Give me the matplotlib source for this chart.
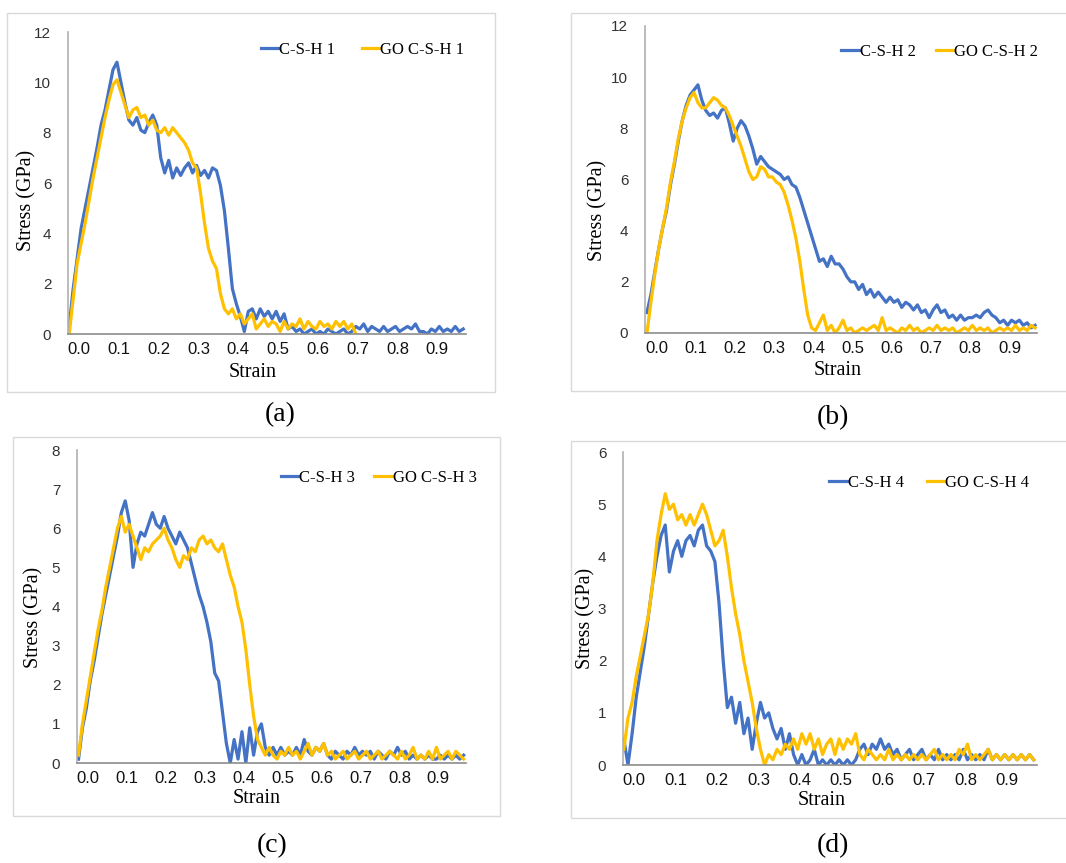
import numpy as np
import matplotlib
matplotlib.use("Agg")
import matplotlib.pyplot as plt
from matplotlib.patches import Rectangle

# strain sample points shared by all curves
strain = np.round(np.arange(-0.025, 0.97, 0.01), 3)

csh1 = [0.3, 1.8, 3.0, 4.2, 5.0, 5.8, 6.6, 7.4, 8.3, 8.9,
        9.7, 10.5, 10.8, 10.0, 9.2, 8.5, 8.3, 8.6, 8.1, 8.0,
        8.4, 8.7, 8.3, 7.0, 6.4, 6.9, 6.2, 6.6, 6.3, 6.6,
        6.8, 6.4, 6.7, 6.3, 6.5, 6.2, 6.6, 6.5, 5.9, 4.9,
        3.4, 1.8, 1.2, 0.7, 0.1, 0.9, 1.0, 0.6, 1.0, 0.7,
        0.9, 0.6, 0.9, 0.5, 0.8, 0.2, 0.3, 0.1, 0.2, 0.0,
        0.1, 0.2, 0.0, 0.1, 0.0, 0.2, 0.1, 0.0, 0.1, 0.2,
        0.0, 0.1, 0.3, 0.2, 0.4, 0.1, 0.3, 0.2, 0.1, 0.3,
        0.1, 0.2, 0.3, 0.1, 0.2, 0.3, 0.2, 0.4, 0.1, 0.1,
        0.0, 0.2, 0.1, 0.3, 0.1, 0.2, 0.1, 0.3, 0.1, 0.2]
go_csh1 = [0.0, 1.4, 2.8, 3.6, 4.4, 5.3, 6.2, 7.0, 7.8, 8.6,
           9.3, 9.9, 10.1, 9.6, 9.1, 8.6, 8.9, 9.0, 8.6, 8.7,
           8.3, 8.5, 8.1, 8.0, 8.2, 7.9, 8.2, 8.0, 7.8, 7.6,
           7.3, 6.8, 6.6, 5.6, 4.4, 3.4, 2.9, 2.6, 1.6, 1.0,
           0.8, 1.0, 0.6, 0.8, 0.4, 0.6, 0.8, 0.2, 0.4, 0.6,
           0.3, 0.5, 0.4, 0.1, 0.5, 0.2, 0.4, 0.3, 0.6, 0.2,
           0.5, 0.3, 0.2, 0.5, 0.3, 0.4, 0.2, 0.5, 0.3, 0.5,
           0.2, 0.4, 0.0]

csh2 = [0.8, 1.5, 2.4, 3.3, 4.1, 4.8, 5.8, 6.6, 7.5, 8.3,
        8.9, 9.3, 9.5, 9.7, 9.1, 8.7, 8.5, 8.6, 8.4, 8.7,
        8.8, 8.2, 7.5, 8.0, 8.3, 8.1, 7.7, 7.2, 6.6, 6.9,
        6.7, 6.5, 6.4, 6.3, 6.2, 6.0, 6.1, 5.8, 5.7, 5.3,
        4.8, 4.3, 3.8, 3.3, 2.8, 2.9, 2.6, 3.0, 2.7, 2.7,
        2.5, 2.2, 2.0, 2.0, 1.7, 1.9, 1.5, 1.7, 1.4, 1.6,
        1.4, 1.2, 1.4, 1.2, 1.3, 1.0, 1.2, 1.1, 0.9, 1.1,
        0.8, 0.9, 0.6, 0.9, 1.1, 0.8, 0.9, 0.6, 0.7, 0.5,
        0.7, 0.5, 0.6, 0.6, 0.7, 0.6, 0.8, 0.9, 0.7, 0.6,
        0.4, 0.5, 0.3, 0.5, 0.4, 0.5, 0.3, 0.4, 0.2, 0.3]
go_csh2 = [0.0, 1.2, 2.3, 3.3, 4.1, 4.9, 5.9, 6.7, 7.6, 8.3,
           8.8, 9.2, 9.4, 9.0, 8.8, 8.8, 9.0, 9.2, 9.1, 8.9,
           8.8, 8.5, 8.1, 7.7, 7.3, 6.8, 6.3, 6.0, 6.1, 6.5,
           6.4, 6.1, 6.1, 5.9, 5.8, 5.5, 5.0, 4.4, 3.7, 2.8,
           1.7, 0.7, 0.2, 0.1, 0.4, 0.7, 0.1, 0.3, 0.0, 0.2,
           0.5, 0.1, 0.2, 0.0, 0.1, 0.2, 0.1, 0.2, 0.3, 0.1,
           0.6, 0.1, 0.2, 0.1, 0.0, 0.2, 0.1, 0.3, 0.1, 0.2,
           0.0, 0.1, 0.2, 0.1, 0.3, 0.1, 0.2, 0.1, 0.2, 0.0,
           0.1, 0.2, 0.1, 0.3, 0.1, 0.2, 0.1, 0.2, 0.0, 0.1,
           0.2, 0.1, 0.2, 0.1, 0.3, 0.1, 0.2, 0.1, 0.3, 0.2]

csh3 = [0.1, 0.9, 1.4, 2.1, 2.6, 3.2, 3.8, 4.3, 4.8, 5.3,
        5.8, 6.4, 6.7, 6.2, 5.0, 5.6, 5.9, 5.8, 6.1, 6.4,
        6.1, 6.0, 6.3, 6.0, 5.8, 5.6, 5.9, 5.7, 5.5, 5.1,
        4.7, 4.3, 4.0, 3.6, 3.1, 2.3, 2.1, 1.3, 0.5, 0.0,
        0.6, 0.1, 0.8, 0.0, 0.9, 0.2, 0.8, 1.0, 0.4, 0.2,
        0.4, 0.2, 0.4, 0.2, 0.3, 0.2, 0.4, 0.2, 0.6, 0.3,
        0.2, 0.4, 0.3, 0.5, 0.2, 0.1, 0.3, 0.2, 0.1, 0.3,
        0.2, 0.4, 0.2, 0.3, 0.2, 0.3, 0.1, 0.3, 0.2, 0.1,
        0.3, 0.2, 0.4, 0.2, 0.3, 0.1, 0.2, 0.1, 0.2, 0.1,
        0.2, 0.1, 0.1, 0.2, 0.1, 0.2, 0.1, 0.2, 0.1, 0.2]
go_csh3 = [0.2, 1.0, 1.6, 2.2, 2.8, 3.4, 3.9, 4.5, 5.0, 5.5,
           6.0, 6.3, 5.9, 6.1, 5.8, 5.5, 5.2, 5.5, 5.4, 5.6,
           5.7, 5.8, 6.0, 5.7, 5.5, 5.2, 5.0, 5.3, 5.2, 5.5,
           5.4, 5.7, 5.8, 5.6, 5.7, 5.5, 5.4, 5.6, 5.2, 4.8,
           4.5, 4.0, 3.6, 2.9, 2.0, 1.2, 0.6, 0.4, 0.2, 0.4,
           0.2, 0.1, 0.3, 0.2, 0.4, 0.2, 0.3, 0.1, 0.3, 0.5,
           0.2, 0.4, 0.3, 0.5, 0.2, 0.3, 0.1, 0.2, 0.3, 0.1,
           0.2, 0.3, 0.1, 0.2, 0.3, 0.1, 0.2, 0.3, 0.1, 0.2,
           0.3, 0.2, 0.1, 0.3, 0.1, 0.2, 0.4, 0.1, 0.2, 0.1,
           0.3, 0.1, 0.4, 0.1, 0.2, 0.3, 0.1, 0.3, 0.2, 0.1]

csh4 = [0.5, 0.0, 0.6, 1.3, 1.8, 2.3, 2.9, 3.5, 4.0, 4.4,
        4.6, 3.7, 4.1, 4.3, 4.0, 4.3, 4.4, 4.2, 4.5, 4.6,
        4.2, 4.1, 3.9, 3.1, 2.0, 1.1, 1.3, 0.8, 1.2, 0.6,
        0.9, 0.3, 0.8, 1.2, 0.9, 1.0, 0.7, 0.5, 0.7, 0.3,
        0.6, 0.2, 0.0, 0.2, 0.0, 0.1, 0.3, 0.0, 0.1, 0.0,
        0.1, 0.0, 0.1, 0.0, 0.1, 0.0, 0.1, 0.3, 0.4, 0.2,
        0.4, 0.3, 0.5, 0.3, 0.4, 0.2, 0.3, 0.1, 0.2, 0.3,
        0.1, 0.2, 0.3, 0.1, 0.2, 0.1, 0.3, 0.1, 0.2, 0.1,
        0.2, 0.1, 0.3, 0.1, 0.2, 0.1, 0.2, 0.1, 0.3, 0.1,
        0.2, 0.1, 0.2, 0.1, 0.2, 0.1, 0.2, 0.1, 0.2, 0.1]
go_csh4 = [0.3, 0.9, 1.2, 1.7, 2.1, 2.5, 2.9, 3.5, 4.3, 4.8,
           5.2, 4.9, 5.0, 4.7, 4.8, 4.6, 4.8, 4.6, 4.8, 5.0,
           4.8, 4.5, 4.2, 4.3, 4.5, 4.0, 3.4, 2.9, 2.5, 2.0,
           1.6, 1.2, 0.7, 0.3, 0.0, 0.2, 0.1, 0.3, 0.2, 0.4,
           0.3, 0.5, 0.3, 0.6, 0.4, 0.6, 0.3, 0.5, 0.2, 0.4,
           0.5, 0.2, 0.5, 0.3, 0.5, 0.4, 0.6, 0.2, 0.1, 0.3,
           0.2, 0.1, 0.2, 0.1, 0.3, 0.1, 0.2, 0.1, 0.2, 0.1,
           0.2, 0.1, 0.2, 0.1, 0.2, 0.3, 0.1, 0.2, 0.1, 0.2,
           0.1, 0.3, 0.2, 0.4, 0.1, 0.2, 0.1, 0.2, 0.3, 0.1,
           0.2, 0.1, 0.2, 0.1, 0.2, 0.1, 0.2, 0.1, 0.2, 0.1]

x_ticks = [0.0, 0.1, 0.2, 0.3, 0.4, 0.5, 0.6, 0.7, 0.8, 0.9]
BLUE = "#4472C4"
GOLD = "#FFC000"
W, H = 1066, 863

fig = plt.figure(figsize=(W / 100, H / 100), dpi=100)


def fx(x):
    return x / W


def fy(y):
    return 1 - y / H


# pixel layout of each panel, measured on the reference
panels = [
    dict(ax=(68, 334, 398, 302), xmin=-0.028, ymax=12, ystep=2,
         frame=(7, 13, 495, 392), leg=(0.485, 0.940), cs=1.6,
         ylab=(27, 200), xlab=(253, 372), cap=("(a)", 280, 415),
         series=(csh1, go_csh1), names=("C-S-H 1", "GO C-S-H 1")),
    dict(ax=(645, 333, 392, 307), xmin=-0.03, ymax=12, ystep=2,
         frame=(571, 13, 1070, 391), leg=(0.501, 0.916), cs=1.2,
         ylab=(598, 210), xlab=(838, 370), cap=("(b)", 833, 418),
         series=(csh2, go_csh2), names=("C-S-H 2", "GO C-S-H 2")),
    dict(ax=(77, 763, 389, 313), xmin=-0.029, ymax=8, ystep=1,
         frame=(13, 437, 500, 816), leg=(0.524, 0.910), cs=1.15,
         ylab=(34, 617), xlab=(257, 798), cap=("(c)", 272, 846),
         series=(csh3, go_csh3), names=("C-S-H 3", "GO C-S-H 3")),
    dict(ax=(623, 765, 414, 313), xmin=-0.027, ymax=6, ystep=1,
         frame=(571, 441, 1070, 818), leg=(0.498, 0.902), cs=1.4,
         ylab=(586, 618), xlab=(822, 800), cap=("(d)", 833, 846),
         series=(csh4, go_csh4), names=("C-S-H 4", "GO C-S-H 4")),
]

serif = "Liberation Serif"
sans = "Liberation Sans"

for p in panels:
    l, b, w, h = p["ax"]
    x0, y0, x1, y1 = p["frame"]
    fig.patches.append(Rectangle((fx(x0), fy(y1)), fx(x1 - x0), (y1 - y0) / H,
                                 transform=fig.transFigure, fill=False,
                                 edgecolor="#D9D9D9", linewidth=1.0))

    ax = fig.add_axes([fx(l), fy(b), fx(w), h / H])
    blue, gold = p["series"]
    ax.plot(strain[:len(blue)], blue, color=BLUE, lw=2.3, label=p["names"][0])
    ax.plot(strain[:len(gold)], gold, color=GOLD, lw=2.3, label=p["names"][1])

    ax.set_xlim(p["xmin"], p["xmin"] + 1.0)
    ax.set_ylim(0, p["ymax"])
    ax.set_xticks(x_ticks)
    ax.set_xticklabels([f"{t:.1f}" for t in x_ticks])
    ax.set_yticks(np.arange(0, p["ymax"] + 1, p["ystep"]))
    ax.tick_params(length=0)
    ax.tick_params(axis="y", pad=12, labelsize=11, labelcolor="#333333")
    ax.tick_params(axis="x", pad=6, labelsize=12, labelcolor="#111111")
    for lab in ax.get_xticklabels() + ax.get_yticklabels():
        lab.set_fontfamily(sans)
    for s in ("top", "right"):
        ax.spines[s].set_visible(False)
    ax.spines["left"].set_color("#B0B0B0")
    ax.spines["bottom"].set_color("#8C8C8C")
    ax.spines["left"].set_linewidth(1.2)
    ax.spines["bottom"].set_linewidth(1.2)
    ax.patch.set_alpha(0)

    ax.legend(loc="center left", bbox_to_anchor=p["leg"], ncol=2, frameon=False,
              borderpad=0, borderaxespad=0, handlelength=1.05, handletextpad=0.05,
              columnspacing=p["cs"], prop={"family": serif, "size": 12})

    fig.text(fx(p["ylab"][0]), fy(p["ylab"][1]), "Stress (GPa)", rotation=90,
             ha="center", va="center", fontsize=14.5, family=serif)
    fig.text(fx(p["xlab"][0]), fy(p["xlab"][1]), "Strain",
             ha="center", va="center", fontsize=14.5, family=serif)
    cap, cx, cy = p["cap"]
    fig.text(fx(cx), fy(cy), cap, ha="center", va="center", fontsize=20, family=serif)

fig.savefig("out.png", dpi=100)
